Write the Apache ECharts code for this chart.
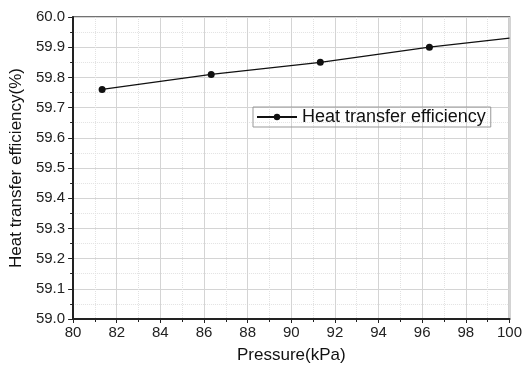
<!DOCTYPE html>
<html>
<head>
    <meta charset="utf-8">
    <title>Heat transfer efficiency</title>
    <script src="https://cdn.jsdelivr.net/npm/echarts@6/dist/echarts.min.js"></script>
</head>
<body style="margin:0;background:#fff">
    <div id="main" style="width:525px;height:369px;"></div>
    <script type="text/javascript">
        // data
        var pressure = [81.33, 86.33, 91.33, 96.33, 100];
        var efficiency = [59.76, 59.81, 59.85, 59.90, 59.93];
        var seriesName = 'Heat transfer efficiency';

        var myChart = echarts.init(document.getElementById('main'));

        var pts = pressure.map(function (p, i) {
            var item = { value: [p, efficiency[i]] };
            // the last point is only where the line leaves the frame
            if (i === pressure.length - 1) item.symbol = 'none';
            return item;
        });

        var font = 'Liberation Sans, Arial, sans-serif';

        var option = {
            animation: false,
            textStyle: { fontFamily: font },
            grid: {
                left: 72, right: 12, top: 17, bottom: 49,
                show: true, borderColor: '#444', borderWidth: 1.5
            },
            legend: {
                left: 253, top: 107,
                padding: [1, 5, 1, 3],
                borderColor: '#999', borderWidth: 1,
                itemWidth: 40, itemHeight: 8, itemGap: 6,
                textStyle: { fontSize: 18, color: '#111', fontFamily: font },
                data: [seriesName]
            },
            xAxis: {
                type: 'value', min: 80, max: 100, interval: 2,
                name: 'Pressure(kPa)', nameLocation: 'middle', nameGap: 28,
                nameTextStyle: { fontSize: 17, color: '#111' },
                axisLine: { lineStyle: { color: '#222', width: 2 } },
                axisTick: { length: 4, lineStyle: { color: '#222' } },
                minorTick: { show: true, splitNumber: 2, length: 3, lineStyle: { color: '#222' } },
                axisLabel: { fontSize: 15, color: '#222', margin: 6 },
                splitLine: { lineStyle: { color: '#d4d4d4', width: 1 } },
                minorSplitLine: { show: true, lineStyle: { color: '#e2e2e2', type: 'dotted' } }
            },
            yAxis: {
                type: 'value', min: 59.0, max: 60.0, interval: 0.1,
                name: 'Heat transfer efficiency(%)', nameLocation: 'middle', nameGap: 46,
                nameTextStyle: { fontSize: 17, color: '#111' },
                axisLine: { show: true, lineStyle: { color: '#222', width: 2 } },
                axisTick: { show: true, length: 5, lineStyle: { color: '#222' } },
                minorTick: { show: true, splitNumber: 2, length: 3, lineStyle: { color: '#222' } },
                axisLabel: {
                    fontSize: 15, color: '#222', margin: 8,
                    formatter: function (v) { return v.toFixed(1); }
                },
                splitLine: { lineStyle: { color: '#d4d4d4', width: 1 } },
                minorSplitLine: { show: true, lineStyle: { color: '#e2e2e2', type: 'dotted' } }
            },
            series: [{
                name: seriesName,
                type: 'line',
                data: pts,
                symbol: 'circle',
                symbolSize: 7,
                lineStyle: { color: '#111', width: 1.3 },
                itemStyle: { color: '#111' }
            }]
        };

        myChart.setOption(option);
    </script>
</body>
</html>
